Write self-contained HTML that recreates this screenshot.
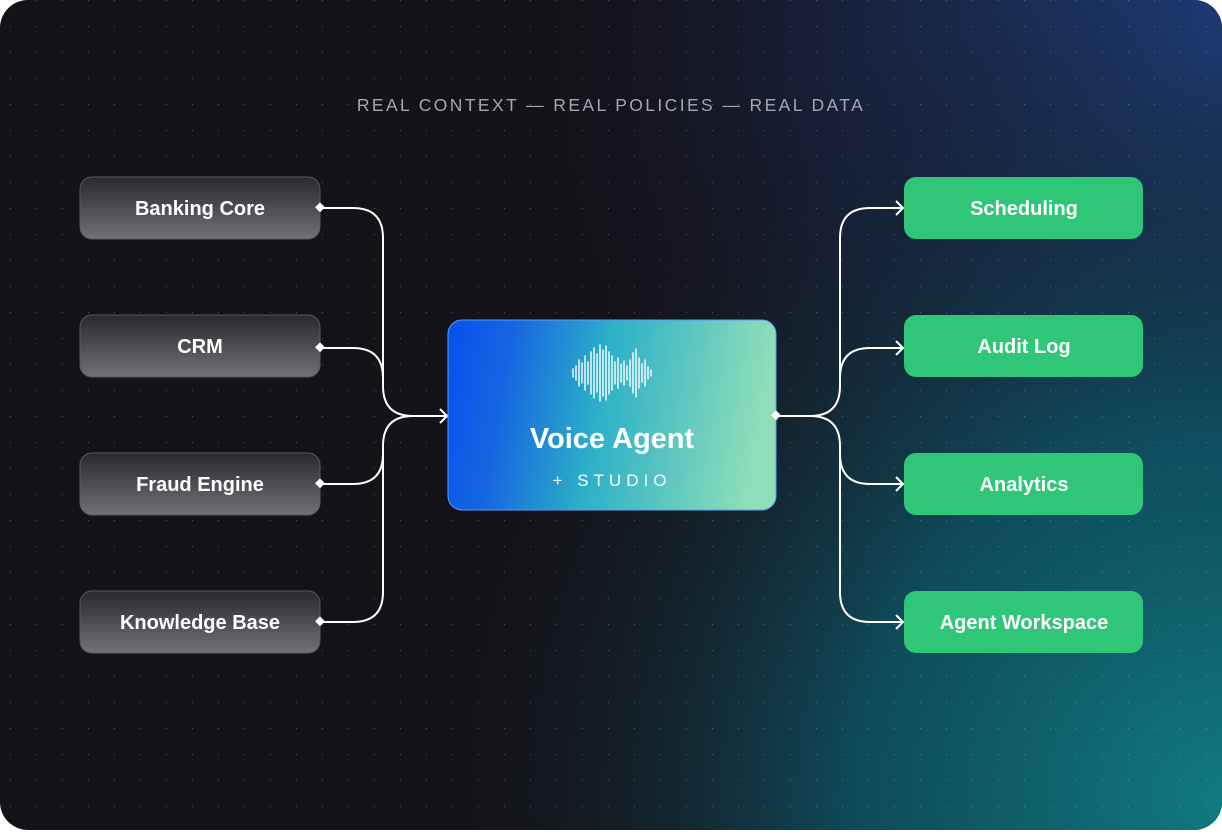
<!DOCTYPE html>
<html><head><meta charset="utf-8"><style>
html,body{margin:0;padding:0;background:#fff;}
body{width:1222px;height:830px;overflow:hidden;}
</style></head><body>
<svg width="1222" height="830" viewBox="0 0 1222 830" xmlns="http://www.w3.org/2000/svg">
<defs>
<clipPath id="card"><rect x="0" y="0" width="1222" height="830" rx="28"/></clipPath>
<radialGradient id="tr" cx="1222" cy="40" r="760" gradientUnits="userSpaceOnUse">
<stop offset="0" stop-color="#1d3d7a" stop-opacity="1"/><stop offset="0.55" stop-color="#18284a" stop-opacity="0.6"/><stop offset="1" stop-color="#151218" stop-opacity="0"/></radialGradient>
<radialGradient id="br" cx="1222" cy="800" r="820" gradientUnits="userSpaceOnUse">
<stop offset="0" stop-color="#107a80"/><stop offset="0.45" stop-color="#0e5466" stop-opacity="0.85"/><stop offset="1" stop-color="#151218" stop-opacity="0"/></radialGradient>
<pattern id="dots" x="10" y="0" width="26" height="26" patternUnits="userSpaceOnUse"><circle cx="0" cy="0" r="1.1" fill="#ffffff" fill-opacity="0.3"/></pattern>
<linearGradient id="grey" x1="0" y1="0" x2="0" y2="1"><stop offset="0" stop-color="#2a272d"/><stop offset="1" stop-color="#737176"/></linearGradient>
<linearGradient id="center" x1="0" y1="0" x2="1" y2="0.1"><stop offset="0" stop-color="#0550f0"/><stop offset="0.2" stop-color="#1566e0"/><stop offset="0.5" stop-color="#2cb0c8"/><stop offset="1" stop-color="#8fdeb8"/></linearGradient>
</defs>
<g clip-path="url(#card)">
<rect width="1222" height="830" fill="#151218"/>
<rect width="1222" height="830" fill="url(#tr)"/>
<rect width="1222" height="830" fill="url(#br)"/>
<rect width="1222" height="830" fill="url(#dots)"/>
</g>
<text x="611" y="111" text-anchor="middle" font-family="Liberation Sans, sans-serif" font-size="17.5" letter-spacing="2.4" fill="#a7a5b0">REAL CONTEXT — REAL POLICIES — REAL DATA</text>

<g fill="none" stroke="#fff" stroke-width="2">
<path d="M320,208 H353 Q383,208 383,238 V386 Q383,416 413,416 H447"/>
<path d="M320,348 H353 Q383,348 383,378 V386"/>
<path d="M320,484 H353 Q383,484 383,454 V446 Q383,416 413,416"/>
<path d="M320,622 H353 Q383,622 383,592 V446"/>
<path d="M440,409 L447,416 L440,423"/>
<path d="M776,416 H810 Q840,416 840,386 V238 Q840,208 870,208 H903"/>
<path d="M840,386 V378 Q840,348 870,348 H903"/>
<path d="M810,416 Q840,416 840,446 V454 Q840,484 870,484 H903"/>
<path d="M840,446 V592 Q840,622 870,622 H903"/>
<path d="M896,201 L903,208 L896,215 M896,341 L903,348 L896,355 M896,477 L903,484 L896,491 M896,615 L903,622 L896,629"/>
</g>

<g font-family="Liberation Sans, sans-serif" font-size="20" font-weight="bold" fill="#fff" text-anchor="middle">
<rect x="80" y="177" width="240" height="62" rx="12" fill="url(#grey)" stroke="#5a585e"/>
<text x="200" y="215">Banking Core</text>
<rect x="80" y="315" width="240" height="62" rx="12" fill="url(#grey)" stroke="#5a585e"/>
<text x="200" y="353">CRM</text>
<rect x="80" y="453" width="240" height="62" rx="12" fill="url(#grey)" stroke="#5a585e"/>
<text x="200" y="491">Fraud Engine</text>
<rect x="80" y="591" width="240" height="62" rx="12" fill="url(#grey)" stroke="#5a585e"/>
<text x="200" y="629">Knowledge Base</text>

<rect x="904" y="177" width="239" height="62" rx="12" fill="#2fc678"/>
<text x="1024" y="215">Scheduling</text>
<rect x="904" y="315" width="239" height="62" rx="12" fill="#2fc678"/>
<text x="1024" y="353">Audit Log</text>
<rect x="904" y="453" width="239" height="62" rx="12" fill="#2fc678"/>
<text x="1024" y="491">Analytics</text>
<rect x="904" y="591" width="239" height="62" rx="12" fill="#2fc678"/>
<text x="1024" y="629">Agent Workspace</text>

<rect x="448" y="320" width="328" height="190" rx="14" fill="url(#center)" stroke="#5a9bff" stroke-width="1"/>
<text x="612" y="448" font-size="29">Voice Agent</text>
<text x="612" y="486" font-size="17" font-weight="normal" letter-spacing="5">+ STUDIO</text>
</g>

<g fill="#fff">
<rect x="316" y="204" width="7" height="7" transform="rotate(45 320 208)" />
<rect x="316" y="344" width="7" height="7" transform="rotate(45 320 348)" />
<rect x="316" y="480" width="7" height="7" transform="rotate(45 320 484)" />
<rect x="316" y="618" width="7" height="7" transform="rotate(45 320 622)" />
<rect x="772" y="412" width="7" height="7" transform="rotate(45 776 416)" />
</g>

<g stroke="#fff" stroke-width="1.4" stroke-linecap="round">
<line x1="573" y1="369" x2="573" y2="377"/>
<line x1="576" y1="366" x2="576" y2="380"/>
<line x1="579" y1="360" x2="579" y2="386"/>
<line x1="582" y1="363" x2="582" y2="383"/>
<line x1="585" y1="356" x2="585" y2="390"/>
<line x1="588" y1="362" x2="588" y2="384"/>
<line x1="591" y1="352" x2="591" y2="394"/>
<line x1="594" y1="348" x2="594" y2="398"/>
<line x1="597" y1="354" x2="597" y2="392"/>
<line x1="600" y1="345" x2="600" y2="401"/>
<line x1="603" y1="350" x2="603" y2="396"/>
<line x1="606" y1="346" x2="606" y2="400"/>
<line x1="609" y1="352" x2="609" y2="394"/>
<line x1="612" y1="356" x2="612" y2="390"/>
<line x1="615" y1="362" x2="615" y2="384"/>
<line x1="618" y1="358" x2="618" y2="388"/>
<line x1="621" y1="364" x2="621" y2="382"/>
<line x1="624" y1="361" x2="624" y2="385"/>
<line x1="627" y1="366" x2="627" y2="380"/>
<line x1="630" y1="360" x2="630" y2="386"/>
<line x1="633" y1="353" x2="633" y2="393"/>
<line x1="636" y1="349" x2="636" y2="397"/>
<line x1="639" y1="358" x2="639" y2="388"/>
<line x1="642" y1="364" x2="642" y2="382"/>
<line x1="645" y1="360" x2="645" y2="386"/>
<line x1="648" y1="367" x2="648" y2="379"/>
<line x1="651" y1="370" x2="651" y2="376"/>
</g>
</svg>
</body></html>
